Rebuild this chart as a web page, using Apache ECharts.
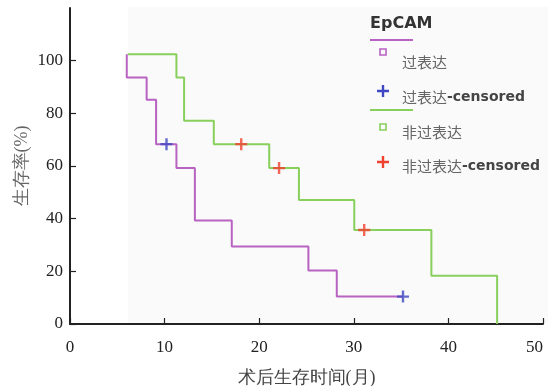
<!DOCTYPE html>
<html><head><meta charset="utf-8">
<script src="https://cdn.jsdelivr.net/npm/echarts@6/dist/echarts.min.js"></script>
<style>html,body{margin:0;padding:0;background:#fff}#c{width:548px;height:386px}</style>
</head><body><div id="c"></div>
<script>
// Kaplan-Meier step data: [month, survival %]
const overTimes   = [6.0, 6.0, 8.1, 9.1, 11.25, 13.2, 17.1, 25.2, 28.2, 35.2];
const overValues  = [102.4, 93.6, 85.2, 68.3, 59.2, 39.3, 29.4, 20.3, 10.4, 10.4];
const overCensT   = [10.2, 35.2];
const overCensV   = [68.3, 10.4];
const nonTimes    = [6.1, 11.25, 12.06, 15.2, 21.06, 24.2, 30.05, 38.2, 45.15];
const nonValues   = [102.4, 93.6, 77.2, 68.3, 59.2, 47.1, 35.7, 18.3, 0];
const nonCensT    = [18.1, 22.1, 31.1];
const nonCensV    = [68.3, 59.2, 35.7];
const xTicks = [0, 10, 20, 30, 40, 50];
const yTicks = [0, 20, 40, 60, 80, 100];
const seriesNames = ['过表达', '过表达-censored', '非过表达', '非过表达-censored'];
const legendTitle = 'EpCAM';
const xName = '术后生存时间(月)';
const yName = '生存率(%)';

const PURPLE = '#b862c2', GREEN = '#88cf5c', BLUE = '#4047c2', RED = '#f0402e';
const pair = (a, b) => a.map((v, i) => [v, b[i]]);
const plus = 'path://M4,0h2v4h4v2h-4v4h-2v-4h-4v-2h4z';
const serif = '"Liberation Serif","DejaVu Serif",serif';
function plusPts(cx, cy, r, t) {
  return [[cx - t, cy - r], [cx + t, cy - r], [cx + t, cy - t], [cx + r, cy - t], [cx + r, cy + t], [cx + t, cy + t],
          [cx + t, cy + r], [cx - t, cy + r], [cx - t, cy + t], [cx - r, cy + t], [cx - r, cy - t], [cx - t, cy - t]];
}

const chart = echarts.init(document.getElementById('c'), null, {renderer: 'canvas'});
const legendTextStyle = (txt) => ({
  text: '{a|' + txt.split('-')[0] + '}' + (txt.includes('-') ? '{b|-' + txt.split('-')[1] + '}' : ''),
  rich: {
    a: {fontSize: 15, fill: '#666', fontFamily: '"Noto Sans CJK SC",sans-serif'},
    b: {fontSize: 14, fill: '#444', fontWeight: 'bold', fontFamily: '"DejaVu Sans",sans-serif'}
  },
  verticalAlign: 'middle'
});
chart.setOption({
  animation: false,
  backgroundColor: '#fff',
  grid: {left: 70, right: 5, top: 8, bottom: 62, containLabel: false, outerBoundsMode: 'none'},
  xAxis: {
    type: 'value', min: 0, max: 50, interval: 10,
    name: xName, nameLocation: 'middle', nameGap: 45, nameMoveOverlap: false,
    nameTextStyle: {fontSize: 18, color: '#444', fontFamily: serif},
    axisLine: {lineStyle: {color: '#222', width: 2}},
    axisTick: {inside: true, length: 6, lineStyle: {color: '#222', width: 1.2}, customValues: xTicks},
    axisLabel: {fontSize: 17, color: '#222', fontFamily: serif, margin: 15, customValues: xTicks, alignMaxLabel: 'right'},
    splitLine: {show: false}
  },
  yAxis: {
    type: 'value', min: 0, max: 120, interval: 20,
    name: yName, nameLocation: 'middle', nameGap: 39, nameRotate: 90, nameMoveOverlap: false,
    nameTextStyle: {fontSize: 18, color: '#666', fontFamily: serif},
    axisLine: {lineStyle: {color: '#222', width: 2}},
    axisTick: {inside: true, length: 6, lineStyle: {color: '#222', width: 1.2}, customValues: yTicks},
    axisLabel: {fontSize: 17, color: '#222', fontFamily: serif, margin: 7, customValues: yTicks},
    splitLine: {show: false}
  },
  series: [
    {name: seriesNames[0], type: 'line', step: 'end', data: pair(overTimes, overValues),
     showSymbol: false, lineStyle: {color: PURPLE, width: 2}, z: 3},
    {name: seriesNames[2], type: 'line', step: 'end', data: pair(nonTimes, nonValues),
     showSymbol: false, lineStyle: {color: GREEN, width: 2}, z: 2},
    {name: seriesNames[1], type: 'scatter', data: pair(overCensT, overCensV),
     symbol: plus, symbolSize: 12, itemStyle: {color: BLUE}, z: 5},
    {name: seriesNames[3], type: 'scatter', data: pair(nonCensT, nonCensV),
     symbol: plus, symbolSize: 12, itemStyle: {color: RED}, z: 5}
  ],
  graphic: [
    {type: 'rect', shape: {x: 128, y: 7, width: 420, height: 316}, style: {fill: '#fafafa'}, z: -10, silent: true},
    {type: 'text', x: 370, y: 24, style: {text: legendTitle, fontSize: 16, fontWeight: 'bold', fill: '#333', fontFamily: '"DejaVu Sans",sans-serif', verticalAlign: 'middle'}},
    {type: 'line', shape: {x1: 370, y1: 40, x2: 413, y2: 40}, style: {stroke: PURPLE, lineWidth: 2}},
    {type: 'rect', shape: {x: 380, y: 49, width: 6, height: 6}, style: {fill: 'none', stroke: PURPLE, lineWidth: 1.6}},
    {type: 'text', x: 402, y: 62, style: legendTextStyle(seriesNames[0])},
    {type: 'polygon', shape: {points: plusPts(383, 91, 6, 1.2)}, style: {fill: BLUE}},
    {type: 'text', x: 402, y: 97, style: legendTextStyle(seriesNames[1])},
    {type: 'line', shape: {x1: 370, y1: 110, x2: 413, y2: 110}, style: {stroke: GREEN, lineWidth: 2}},
    {type: 'rect', shape: {x: 380, y: 124, width: 6, height: 6}, style: {fill: 'none', stroke: GREEN, lineWidth: 1.6}},
    {type: 'text', x: 402, y: 132, style: legendTextStyle(seriesNames[2])},
    {type: 'polygon', shape: {points: plusPts(383, 162, 6, 1.2)}, style: {fill: RED}},
    {type: 'text', x: 402, y: 166, style: legendTextStyle(seriesNames[3])}
  ]
});
</script></body></html>
